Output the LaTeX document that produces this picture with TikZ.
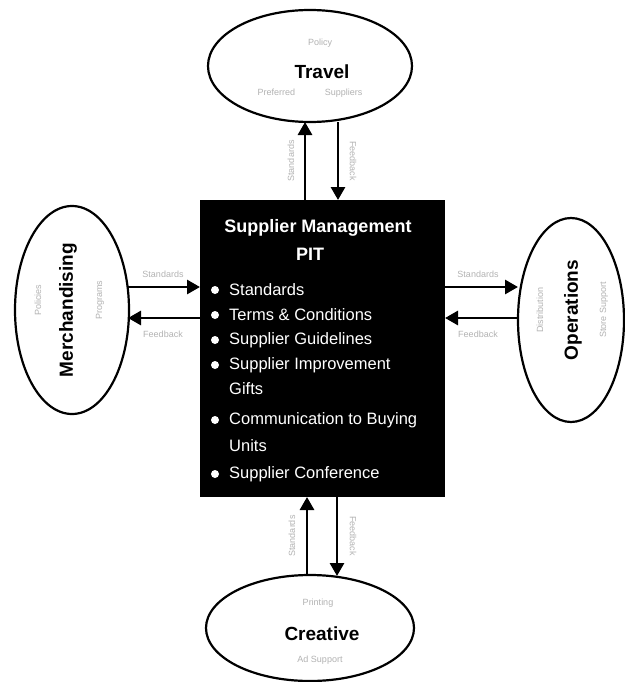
\documentclass[tikz,border=0pt]{standalone}
\usepackage{fontspec}
\setmainfont{Liberation Sans}
\usetikzlibrary{arrows.meta,shapes.geometric}
\begin{document}
\begin{tikzpicture}[x=1pt,y=-1pt,
  dept/.style={draw=black,line width=2.2pt,ellipse,inner sep=0pt,fill=white},
  deptname/.style={font=\bfseries\fontsize{19}{21}\selectfont},
  faint/.style={text=black!30,font=\fontsize{9}{10}\selectfont,inner sep=1pt},
  flow/.style={line width=2.8pt,-{Triangle[width=14pt,length=13pt]}},
  item/.style={text=white,anchor=west,font=\fontsize{16.5}{18}\selectfont,inner sep=0pt},
  ptitle/.style={text=white,font=\bfseries\fontsize{18}{20}\selectfont,inner sep=0pt},
  dot/.style={circle,fill=white,minimum size=8pt,inner sep=0pt}]
\useasboundingbox (0,0) rectangle (624,682);

% central PIT box
\node[fill=black,minimum width=245pt,minimum height=297pt,inner sep=0pt,anchor=north west] (pit) at (200,200) {};
\node[ptitle] (title) at (318,228) {Supplier Management};
\node[ptitle] (pitname) at (310,254) {PIT};
\foreach \y/\t/\n in {290/Standards/a,315/Terms \& Conditions/b,340/Supplier Guidelines/c,365/Supplier Improvement/d,420/Communication to Buying/e,474/Supplier Conference/f}{
  \node[dot] (dot\n) at (215,\y) {};
  \node[item] (txt\n) at (229,\y) {\t};
}
\node[item] (txtd2) at (229,389) {Gifts};
\node[item] (txte2) at (229,446) {Units};

% departments
\node[dept,minimum width=204pt,minimum height=112pt] (travel) at (310,66) {};
\node[deptname] (travelname) at (322,72) {Travel};
\node[faint] (travelup) at (320,43) {Policy};
\node[faint] (traveldn) at (310,93) {Preferred \quad\quad\quad Suppliers};

\node[dept,minimum width=208pt,minimum height=106pt] (creative) at (310,628) {};
\node[deptname] (creativename) at (322,634) {Creative};
\node[faint] (creativeup) at (318,603) {Printing};
\node[faint] (creativedn) at (320,660) {Ad Support};

\node[dept,minimum width=114pt,minimum height=208pt] (merch) at (72,310) {};
\node[deptname,rotate=90] (merchname) at (68,310) {Merchandising};
\node[faint,rotate=90] (merchl) at (38,300) {Policies};
\node[faint,rotate=90] (merchr) at (100,300) {Programs};

\node[dept,minimum width=106pt,minimum height=204pt] (ops) at (571,320) {};
\node[deptname,rotate=90] (opsname) at (573,310) {Operations};
\node[faint,rotate=90] (opsl) at (540,310) {Distribution};
\node[faint,rotate=90] (opsr) at (604,310) {Store Support};

% flows between the PIT and departments
\coordinate (tA) at (305,122); \coordinate (tA2) at (305,200);
\coordinate (tB) at (338,122); \coordinate (tB2) at (338,200);
\draw[flow] (tA2) -- (tA);
\draw[flow] (tB) -- (tB2);
\node[faint,rotate=90] (tlab1) at (291,161) {Standards};
\node[faint,rotate=-90] (tlab2) at (353,161) {Feedback};

\coordinate (bA) at (307,497); \coordinate (bA2) at (307,576);
\coordinate (bB) at (337,497); \coordinate (bB2) at (337,576);
\draw[flow] (bA2) -- (bA);
\draw[flow] (bB) -- (bB2);
\node[faint,rotate=90] (blab1) at (292,536) {Standards};
\node[faint,rotate=-90] (blab2) at (353,536) {Feedback};

\coordinate (lA) at (128,287); \coordinate (lA2) at (200,287);
\coordinate (lB) at (128,318); \coordinate (lB2) at (200,318);
\draw[flow] (lA) -- (lA2);
\draw[flow] (lB2) -- (lB);
\node[faint] (llab1) at (163,274) {Standards};
\node[faint] (llab2) at (163,334) {Feedback};

\coordinate (rA) at (445,287); \coordinate (rA2) at (518,287);
\coordinate (rB) at (445,318); \coordinate (rB2) at (518,318);
\draw[flow] (rA) -- (rA2);
\draw[flow] (rB2) -- (rB);
\node[faint] (rlab1) at (478,274) {Standards};
\node[faint] (rlab2) at (478,334) {Feedback};
\end{tikzpicture}
\end{document}
